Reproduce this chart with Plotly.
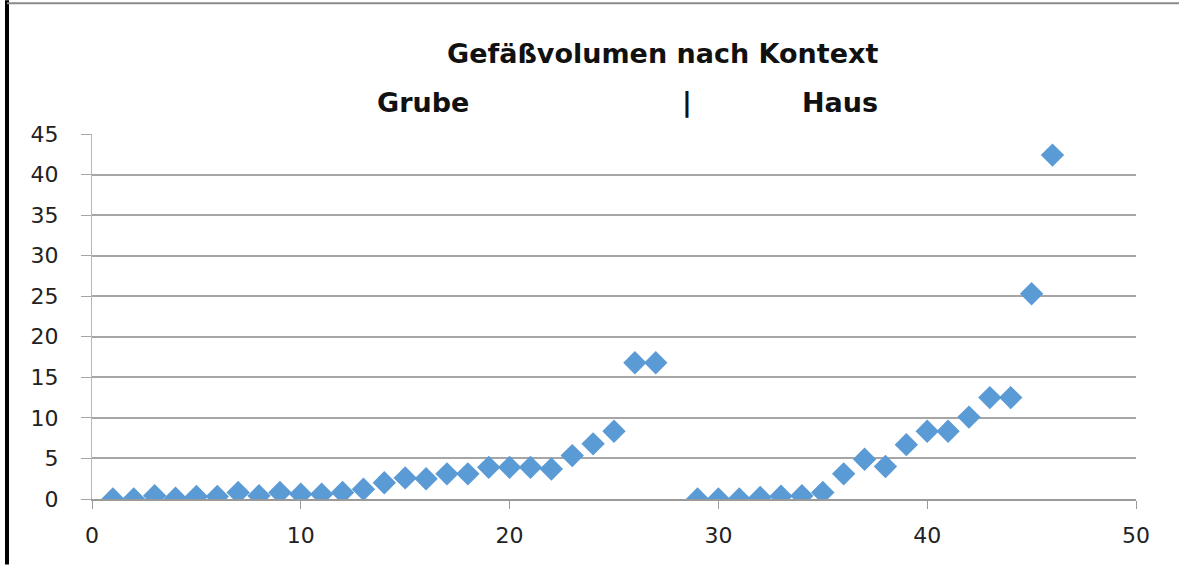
import plotly.graph_objects as go

grube_x = list(range(1, 28))
grube_y = [0, 0, 0.4, 0.1, 0.3, 0.3, 0.8, 0.4, 0.8, 0.6, 0.6, 0.8, 1.2, 2.0,
           2.6, 2.5, 3.1, 3.1, 3.9, 3.9, 3.9, 3.7, 5.35, 6.8, 8.35, 16.8, 16.8]
haus_x = list(range(29, 47))
haus_y = [0, 0, 0, 0.2, 0.35, 0.4, 0.8, 3.1, 4.9, 4.0, 6.7, 8.35, 8.35, 10.1,
          12.5, 12.5, 25.3, 42.4]

x_vals = grube_x + haus_x
y_vals = grube_y + haus_y

x_ticks = [0, 10, 20, 30, 40, 50]
y_ticks = [0, 5, 10, 15, 20, 25, 30, 35, 40, 45]

W, H = 1179, 565
L, R, T, B = 92, 43, 134, 65.5
pw, ph = W - L - R, H - T - B

def px(xp):
    return (xp - L) / pw

def py(yp):
    return 1 - (yp - T) / ph

fig = go.Figure()
fig.add_trace(go.Scatter(
    x=x_vals, y=y_vals, mode="markers",
    marker=dict(symbol="diamond", size=18, color="#5B9BD5", line=dict(width=0)),
    showlegend=False, hoverinfo="x+y",
))

fig.update_layout(
    width=W, height=H,
    margin=dict(l=L, r=R, t=T, b=B),
    paper_bgcolor="white", plot_bgcolor="white",
    xaxis=dict(range=[0, 50], tickvals=x_ticks, showgrid=False, zeroline=False,
               showline=True, linecolor="#9a9a9a", linewidth=1.5,
               ticks="outside", ticklen=8, tickcolor="#9a9a9a",
               ticklabelstandoff=8,
               tickfont=dict(family="DejaVu Sans", size=22, color="#222"),
               fixedrange=True),
    yaxis=dict(range=[0, 45], tickvals=y_ticks, showgrid=True, gridcolor="#a6a6a6",
               gridwidth=1.5, zeroline=False, showline=True, linecolor="#b8b8b8",
               linewidth=1, ticks="outside", ticklen=10, tickcolor="#a6a6a6",
               ticklabelstandoff=18,
               tickfont=dict(family="DejaVu Sans", size=22, color="#222"),
               fixedrange=True),
    font=dict(family="DejaVu Sans"),
)

title_font = dict(family="DejaVu Sans", size=27, color="#111")
fig.add_annotation(text="<b>Gefäßvolumen nach Kontext</b>", xref="paper", yref="paper",
                   x=px(880), y=py(53), xanchor="right", yanchor="middle",
                   showarrow=False, font=title_font)
fig.add_annotation(text="<b>Grube</b>", xref="paper", yref="paper",
                   x=px(375), y=py(102), xanchor="left", yanchor="middle",
                   showarrow=False, font=title_font)
fig.add_annotation(text="<b>|</b>", xref="paper", yref="paper",
                   x=px(687), y=py(102), xanchor="center", yanchor="middle",
                   showarrow=False, font=title_font)
fig.add_annotation(text="<b>Haus</b>", xref="paper", yref="paper",
                   x=px(880), y=py(102), xanchor="right", yanchor="middle",
                   showarrow=False, font=title_font)

# frame borders
fig.add_shape(type="line", xref="paper", yref="paper", x0=px(7), x1=px(7), y0=py(0), y1=py(565),
              line=dict(color="black", width=4))
fig.add_shape(type="line", xref="paper", yref="paper", x0=px(7), x1=px(1179), y0=py(3), y1=py(3),
              line=dict(color="#8a8a8a", width=2))

fig.write_html("out.html", config={"displayModeBar": False},
               post_script="document.body.style.margin='0';")
